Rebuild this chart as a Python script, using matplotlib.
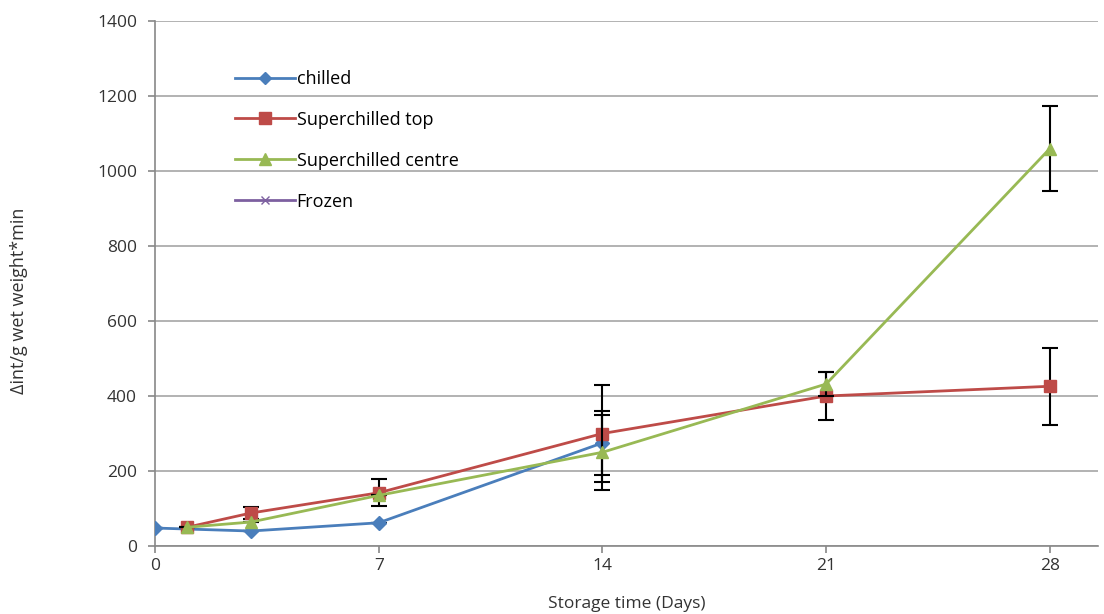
import matplotlib
matplotlib.use("Agg")
import matplotlib.pyplot as plt
from matplotlib.lines import Line2D
from matplotlib import font_manager

# Data
chilled_x = [0, 3, 7, 14]
chilled_y = [48, 40, 62, 275]
chilled_err = [0, 0, 0, 85]

top_x = [1, 3, 7, 14, 21, 28]
top_y = [50, 88, 142, 300, 400, 426]
top_err = [0, 15, 36, 130, 65, 102]

centre_x = [1, 3, 7, 14, 21, 28]
centre_y = [50, 64, 135, 250, 432, 1060]
centre_err = [0, 0, 0, 100, 32, 114]

frozen_x = []
frozen_y = []

x_ticks = [0, 7, 14, 21, 28]
y_ticks = [0, 200, 400, 600, 800, 1000, 1200, 1400]

plt.rcParams['font.family'] = ['Open Sans', 'DejaVu Sans']

names = {f.name for f in font_manager.fontManager.ttflist}
narrow = 'Liberation Sans Narrow' if 'Liberation Sans Narrow' in names else 'Open Sans'

fig = plt.figure(figsize=(11.04, 6.14), dpi=100)
ax = fig.add_axes([0.1404, 0.1107, 0.854, 0.8551])

blue = '#4A7EBB'
red = '#BE4B48'
green = '#98B954'
purple = '#7D60A0'

ekw = dict(ecolor='black', elinewidth=1.5, capsize=6, capthick=1.5)

ax.errorbar(chilled_x, chilled_y, yerr=chilled_err, color=blue, marker='D', markersize=7,
            linewidth=2, zorder=3, **ekw)
ax.errorbar(top_x, top_y, yerr=top_err, color=red, marker='s', markersize=9,
            linewidth=2, zorder=4, **ekw)
ax.errorbar(centre_x, centre_y, yerr=centre_err, color=green, marker='^', markersize=9,
            linewidth=2, zorder=5, **ekw)
ax.plot(frozen_x, frozen_y, color=purple, marker='x', markersize=7, linewidth=2)

ax.set_xlim(0, 29.5)
ax.set_ylim(0, 1400)
ax.set_xticks(x_ticks)
ax.set_yticks(y_ticks)
ax.yaxis.grid(True, color='#A6A6A6', linewidth=1.2)
ax.set_axisbelow(True)
for s in ['top', 'right']:
    ax.spines[s].set_visible(False)
for s in ['left', 'bottom']:
    ax.spines[s].set_color('#888888')
    ax.spines[s].set_linewidth(1.2)
ax.tick_params(axis='both', colors='#888888', length=5, width=1.2, labelsize=12.5,
               labelcolor='#333333', direction='out')
ax.tick_params(axis='y', pad=8)

ax.set_xlabel('Storage time (Days)', fontsize=12.5, color='#333333', labelpad=16)
fig.text(0.017, 0.51, 'Δint/g wet weight*min', rotation=90, fontsize=13,
         color='#333333', ha='center', va='center', family=narrow)

handles = [
    Line2D([], [], color=blue, marker='D', markersize=6, linewidth=2),
    Line2D([], [], color=red, marker='s', markersize=9, linewidth=2),
    Line2D([], [], color=green, marker='^', markersize=8, linewidth=2),
    Line2D([], [], color=purple, marker='x', markersize=6, linewidth=2),
]
labels = ['chilled', 'Superchilled top', 'Superchilled centre', 'Frozen']
ax.legend(handles, labels, loc='upper left', bbox_to_anchor=(0.085, 0.907), frameon=False,
          fontsize=13, labelspacing=1.27, handlelength=3.3, handletextpad=0.1,
          borderaxespad=0, borderpad=0)

fig.savefig('out.png', dpi=100)
